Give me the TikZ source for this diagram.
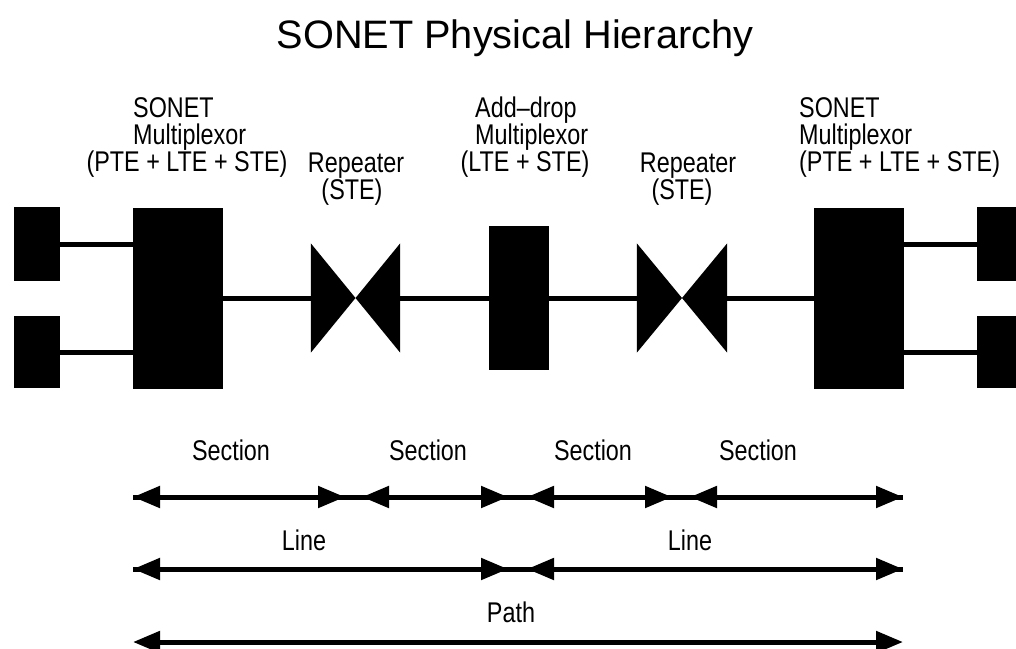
\documentclass[tikz,border=0pt]{standalone}
\usepackage{fontspec}
\setmainfont{Liberation Sans}
\newfontfamily\lblfont[FakeStretch=0.82]{Liberation Sans}
\usetikzlibrary{arrows.meta}

\tikzset{
  unit/.style={fill=black,inner sep=0pt},
  wire/.style={line width=5pt},
  span/.style={line width=5pt,{Triangle[length=27pt,width=21pt]}-{Triangle[length=27pt,width=21pt]}},
  lbl/.style={font=\lblfont\fontsize{28.5pt}{28pt}\selectfont,inner sep=0pt,anchor=base},
  lbll/.style={lbl,anchor=base west},
}

\begin{document}
\begin{tikzpicture}[x=1pt,y=-1pt]
  \clip (0,0) rectangle (1016,648);
  \node[font=\fontsize{39.7pt}{40pt}\selectfont,inner sep=0pt,anchor=base] (title) at (515,48) {SONET Physical Hierarchy};

  % equipment
  \node[unit,minimum width=46pt,minimum height=74pt] (inA) at (37,244) {};
  \node[unit,minimum width=46pt,minimum height=72pt] (inB) at (37,352) {};
  \node[unit,minimum width=90pt,minimum height=181pt] (muxL) at (178,298) {};
  \node[inner sep=0pt,minimum width=89pt,minimum height=109pt] (rep1) at (355.5,298) {};
  \node[unit,minimum width=60pt,minimum height=144pt] (adm) at (519,298) {};
  \node[inner sep=0pt,minimum width=90pt,minimum height=109pt] (rep2) at (682,298) {};
  \node[unit,minimum width=90pt,minimum height=181pt] (muxR) at (859,298) {};
  \node[unit,minimum width=46pt,minimum height=74pt] (outA) at (1000,244) {};
  \node[unit,minimum width=46pt,minimum height=72pt] (outB) at (1000,352) {};
  \foreach \r in {rep1,rep2} {
    \fill (\r.north west) -- (\r.south west) -- (\r.center) -- cycle;
    \fill (\r.north east) -- (\r.south east) -- (\r.center) -- cycle;
  }

  % wires
  \draw[wire] (inA.east) -- (inA.east -| muxL.west);
  \draw[wire] (inB.east) -- (inB.east -| muxL.west);
  \draw[wire] (muxL.east) -- (rep1.west);
  \draw[wire] (rep1.east) -- (adm.west);
  \draw[wire] (adm.east) -- (rep2.west);
  \draw[wire] (rep2.east) -- (muxR.west);
  \draw[wire] (outA.west -| muxR.east) -- (outA.west);
  \draw[wire] (outB.west -| muxR.east) -- (outB.west);

  % equipment labels
  \node[lbll] (muxLa) at (133,117) {SONET};
  \node[lbll] (muxLb) at (133,144) {Multiplexor};
  \node[lbl] (muxLc) at (187,171) {(PTE + LTE + STE)};
  \node[lbl] (rep1a) at (356,172) {Repeater};
  \node[lbl] (rep1b) at (352,199) {(STE)};
  \node[lbll] (adma) at (475,117) {Add–drop};
  \node[lbll] (admb) at (475,144) {Multiplexor};
  \node[lbl] (admc) at (525,171) {(LTE + STE)};
  \node[lbl] (rep2a) at (688,172) {Repeater};
  \node[lbl] (rep2b) at (682,199) {(STE)};
  \node[lbll] (muxRa) at (799,117) {SONET};
  \node[lbll] (muxRb) at (799,144) {Multiplexor};
  \node[lbll] (muxRc) at (799,171) {(PTE + LTE + STE)};

  % spans
  \coordinate (s0) at (133,497);
  \coordinate (s1) at (345,497);
  \coordinate (s1b) at (362,497);
  \coordinate (s2) at (508,497);
  \coordinate (s2b) at (527,497);
  \coordinate (s3) at (672,497);
  \coordinate (s3b) at (690,497);
  \coordinate (s4) at (903,497);
  \coordinate (l0) at (133,569);
  \coordinate (l1) at (508,569);
  \coordinate (l1b) at (527,569);
  \coordinate (l2) at (903,569);
  \coordinate (p0) at (133,642);
  \coordinate (p1) at (903,642);

  \draw[wire] (s0) -- (s4);
  \draw[span] (s0) -- (s1);
  \draw[span] (s1b) -- (s2);
  \draw[span] (s2b) -- (s3);
  \draw[span] (s3b) -- (s4);
  \draw[wire] (l0) -- (l2);
  \draw[span] (l0) -- (l1);
  \draw[span] (l1b) -- (l2);
  \draw[span] (p0) -- (p1);

  \node[lbl] (sec1) at (231,460) {Section};
  \node[lbl] (sec2) at (428,460) {Section};
  \node[lbl] (sec3) at (593,460) {Section};
  \node[lbl] (sec4) at (758,460) {Section};
  \node[lbl] (line1) at (304,550) {Line};
  \node[lbl] (line2) at (690,550) {Line};
  \node[lbl] (path) at (511,622) {Path};
\end{tikzpicture}
\end{document}
